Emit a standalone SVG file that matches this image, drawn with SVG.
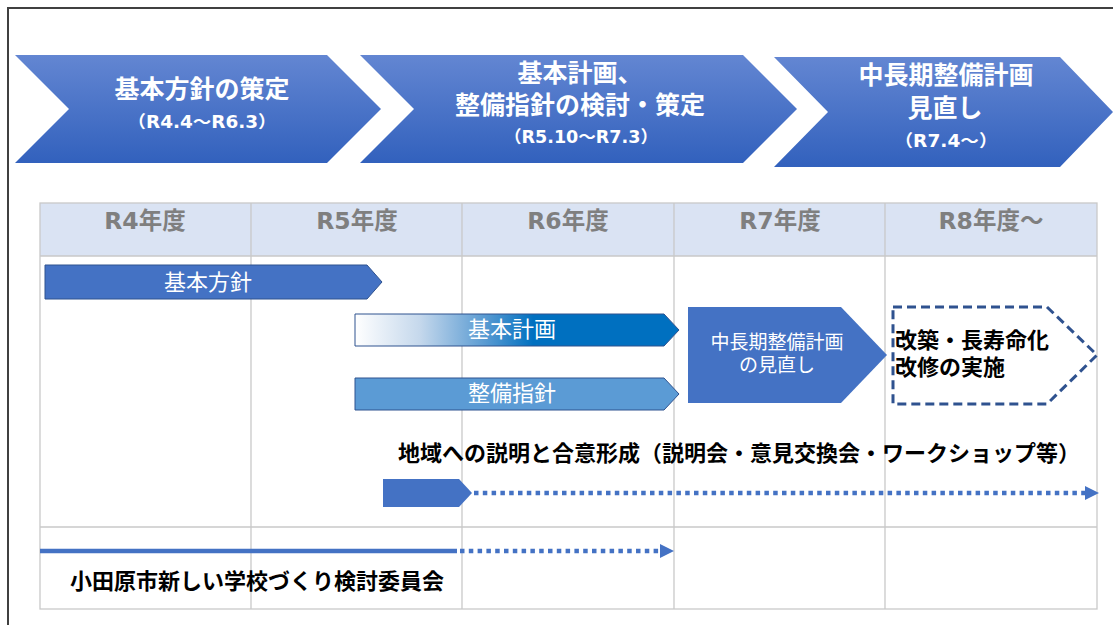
<svg xmlns="http://www.w3.org/2000/svg" width="1113" height="625" viewBox="0 0 1113 625">
<defs>
<linearGradient id="chev" x1="0" y1="0" x2="0" y2="1">
<stop offset="0" stop-color="#6386d2"/>
<stop offset="1" stop-color="#3261bd"/>
</linearGradient>
<linearGradient id="kihon" x1="0" y1="0" x2="1" y2="0">
<stop offset="0" stop-color="#ffffff"/>
<stop offset="0.2" stop-color="#c5d8ec"/>
<stop offset="0.4" stop-color="#5a9bd2"/>
<stop offset="0.55" stop-color="#0070c0"/>
<stop offset="1" stop-color="#0070c0"/>
</linearGradient>
<style>
text{font-family:"DejaVu Sans","Noto Sans CJK JP",sans-serif;}
.tt{fill:#fff;font-weight:bold;font-size:25px;text-anchor:middle;}
.ts{fill:#fff;font-weight:bold;font-size:17px;text-anchor:middle;}
.hd{fill:#7f7f7f;font-weight:bold;font-size:23.5px;text-anchor:middle;}
.bt{fill:#fff;font-size:22px;text-anchor:middle;}
.bk{fill:#000;font-weight:bold;font-size:22px;}
.grid{stroke:#c9c9c9;stroke-width:1.3;fill:none;}
.dot{stroke:#4472c4;stroke-width:4.5;stroke-dasharray:4.5 4.3;fill:none;}
</style>
</defs>
<rect width="1113" height="625" fill="#fff"/>
<path d="M8 625 V8 H1113" fill="none" stroke="#404040" stroke-width="2"/>

<g id="phase1">
<polygon points="15,55 327,55 381,109 327,163 15,163 69,109" fill="url(#chev)"/>
<text class="tt" x="202" y="98">基本方針の策定</text>
<text class="ts" x="202" y="128" textLength="149" lengthAdjust="spacingAndGlyphs">（R4.4～R6.3）</text>
</g>
<g id="phase2">
<polygon points="360,55 743,55 797,109 743,163 360,163 414,109" fill="url(#chev)"/>
<text class="tt" x="580" y="82">基本計画、</text>
<text class="tt" x="580" y="114">整備指針の検討・策定</text>
<text class="ts" x="581" y="143" textLength="154" lengthAdjust="spacingAndGlyphs">（R5.10～R7.3）</text>
</g>
<g id="phase3">
<polygon points="774,57 1060,57 1113,112 1060,167 774,167 828,112" fill="url(#chev)"/>
<text class="tt" x="946" y="84">中長期整備計画</text>
<text class="tt" x="945" y="117">見直し</text>
<text class="ts" x="946" y="147" textLength="103" lengthAdjust="spacingAndGlyphs">（R7.4～）</text>
</g>

<g id="table">
<rect x="40" y="203" width="1057" height="53" fill="#dae3f3"/>
<rect x="40" y="203" width="1057" height="406" class="grid"/>
<path class="grid" d="M40 256 H1097 M40 527 H1097 M251 203 V609 M462 203 V609 M674 203 V609 M885 203 V609"/>
<text class="hd" x="145" y="229">R4年度</text>
<text class="hd" x="357" y="229">R5年度</text>
<text class="hd" x="568" y="229">R6年度</text>
<text class="hd" x="780" y="229">R7年度</text>
<text class="hd" x="991" y="229">R8年度～</text>
</g>

<g id="bar-kihonhoshin">
<polygon points="45,265 367,265 382,282 367,299 45,299" fill="#4472c4" stroke="#2f528f" stroke-width="1"/>
<text class="bt" x="208" y="290">基本方針</text>
</g>
<g id="bar-kihonkeikaku">
<polygon points="355,314 664,314 679,330 664,346 355,346" fill="url(#kihon)" stroke="#2f528f" stroke-width="1"/>
<text class="bt" x="512" y="337">基本計画</text>
</g>
<g id="bar-seibishishin">
<polygon points="355,378 664,378 679,394 664,410 355,410" fill="#5b9bd5" stroke="#2f528f" stroke-width="1"/>
<text class="bt" x="512" y="401">整備指針</text>
</g>
<g id="bar-minaoshi">
<polygon points="688,307 841,307 887,355 841,403 688,403" fill="#4472c4"/>
<text class="bt" x="777" y="349" style="font-size:19px">中長期整備計画</text>
<text class="bt" x="777" y="372" style="font-size:19px">の見直し</text>
</g>
<g id="bar-jisshi">
<polygon points="893,307 1047,307 1097,355 1047,404 893,404" fill="none" stroke="#2f528f" stroke-width="3" stroke-dasharray="9 5"/>
<text class="bk" x="895" y="348">改築・長寿命化</text>
<text class="bk" x="895" y="375">改修の実施</text>
</g>
<g id="chiiki">
<text class="bk" x="398" y="461">地域への説明と合意形成（説明会・意見交換会・ワークショップ等）</text>
<polygon points="383,479 459,479 472,493 459,507 383,507" fill="#4472c4"/>
</g>
<g id="iinkai">
<text class="bk" x="70" y="589">小田原市新しい学校づくり検討委員会</text>
</g>

<g id="connectors">
<line class="dot" x1="474" y1="493" x2="1086" y2="493"/>
<polygon points="1085,486 1099,493 1085,500" fill="#4472c4"/>
<line x1="40" y1="551" x2="457" y2="551" stroke="#4472c4" stroke-width="4.5"/>
<line class="dot" x1="460" y1="551" x2="660" y2="551"/>
<polygon points="660,544 674,551 660,558" fill="#4472c4"/>
</g>
</svg>
